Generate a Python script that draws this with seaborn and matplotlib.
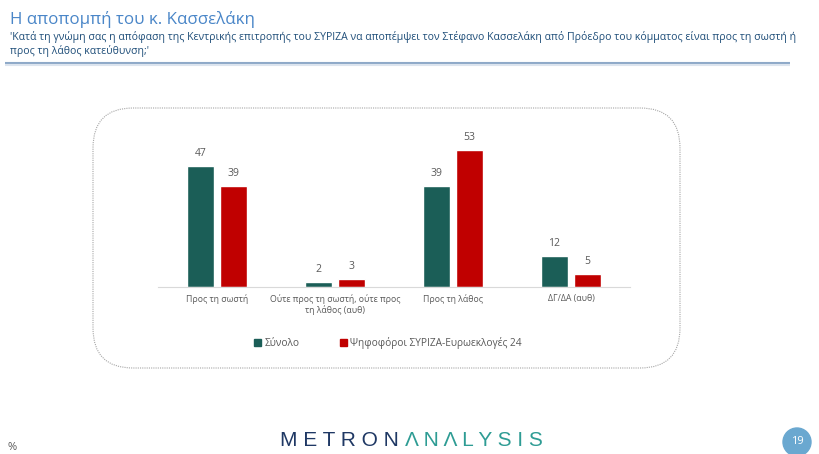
import pandas as pd
import matplotlib.pyplot as plt
import seaborn as sns
from matplotlib.patches import FancyBboxPatch, Circle, Rectangle

categories = ['Προς τη σωστή', 'Ούτε προς τη σωστή, ούτε προς\nτη λάθος (αυθ)',
              'Προς τη λάθος', 'ΔΓ/ΔΑ (αυθ)']
series_names = ['Σύνολο', 'Ψηφοφόροι ΣΥΡΙΖΑ-Ευρωεκλογές 24']
total_vals = [47, 2, 39, 12]
syriza_vals = [39, 3, 53, 5]
colors = ['#1B5E57', '#C00000']

title = 'Η αποπομπή του κ. Κασσελάκη'
subtitle = ('\'Κατά τη γνώμη σας η απόφαση της Κεντρικής επιτροπής του ΣΥΡΙΖΑ να αποπέμψει τον Στέφανο Κασσελάκη '
            'από Πρόεδρο του κόμματος είναι προς τη σωστή ή\nπρος τη λάθος κατεύθυνση;\'')

df = pd.DataFrame({
    'cat': categories * 2,
    'series': [series_names[0]] * 4 + [series_names[1]] * 4,
    'val': total_vals + syriza_vals,
})

sns.set_theme(style='white')
plt.rcParams['font.family'] = ['Open Sans', 'DejaVu Sans']

W, H = 820, 454
fig = plt.figure(figsize=(W / 100, H / 100), dpi=100)

# page background in pixel coordinates
bg = fig.add_axes([0, 0, 1, 1])
bg.set_xlim(0, W)
bg.set_ylim(H, 0)
bg.axis('off')

bg.text(10, 19, title, color='#4A86C8', fontsize=12.2, va='center', ha='left')
bg.text(10, 44, subtitle, color='#1F4E79', fontsize=7.6, va='center', ha='left',
        linespacing=1.2)
bg.plot([5, 790], [63, 63], color='#8EA9C8', lw=1.5, solid_capstyle='butt')
bg.plot([5, 790], [65, 65], color='#DCE4EE', lw=1.5, solid_capstyle='butt')

box = FancyBboxPatch((93, 108), 587, 260, boxstyle='round,pad=0,rounding_size=40',
                     fill=False, edgecolor='#A6A6A6', lw=0.8, linestyle=(0, (1, 1)))
bg.add_patch(box)

bg.text(8, 447, '%', color='#595959', fontsize=8, va='center', ha='left')
bg.text(405, 441, 'M E T R O N ', color='#1F3864', fontsize=15, va='center', ha='right',
        family=['Liberation Sans', 'DejaVu Sans'])
bg.text(405, 441, 'Λ N Λ L Y S I S', color='#2E9C94', fontsize=15, va='center', ha='left',
        family=['Liberation Sans', 'DejaVu Sans'])
bg.add_patch(Circle((797, 442), 14, color='#6AA8D0'))
bg.text(797, 442, '19', color='white', fontsize=8, va='center', ha='center')

# chart
ax = fig.add_axes([158 / W, 1 - 287 / H, 472 / W, 155 / H])
ax.patch.set_alpha(0)
sns.barplot(data=df, x='cat', y='val', hue='series', palette=colors,
            width=0.56, gap=0.18, ax=ax, saturation=1)
ax.set_ylim(0, 60)
ax.set_xlim(-0.5, 3.5)
for c in ax.containers:
    ax.bar_label(c, padding=5, fontsize=7.5, color='#595959')

ax.set_xlabel('')
ax.set_ylabel('')
ax.set_yticks([])
for s in ['top', 'right', 'left']:
    ax.spines[s].set_visible(False)
ax.spines['bottom'].set_color('#D9D9D9')
ax.spines['bottom'].set_linewidth(0.8)
ax.tick_params(axis='x', length=0, pad=5, labelsize=6.3, labelcolor='#595959')

handles, labels = ax.get_legend_handles_labels()
ax.get_legend().remove()
handles = [Rectangle((0, 0), 1, 1, color=col) for col in colors]
fig.legend(handles, labels, loc='center', bbox_to_anchor=(388 / W, 1 - 343 / H),
           ncol=2, frameon=False, fontsize=7.3, labelcolor='#595959',
           handlelength=0.7, handleheight=0.7, handletextpad=0.3, columnspacing=4.0)

fig.savefig('out.png', dpi=100)
